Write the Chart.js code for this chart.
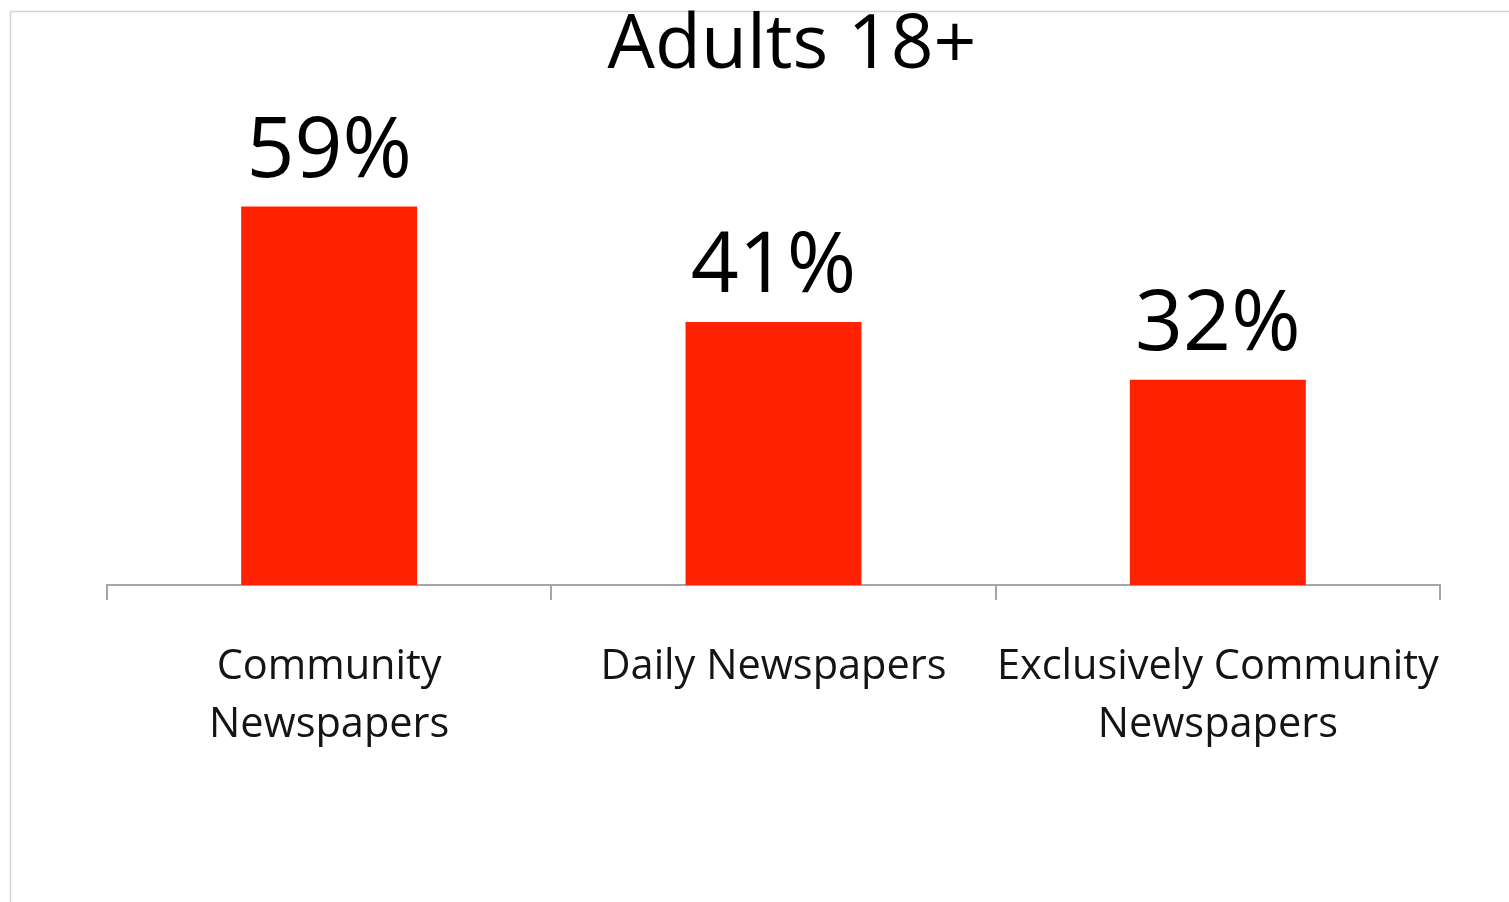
<!DOCTYPE html>
<html>
<head>
<meta charset="utf-8">
<script src="https://cdn.jsdelivr.net/npm/chart.js@4"></script>
<style>
  html, body { margin: 0; padding: 0; background: #ffffff; }
  #wrap { width: 1509px; height: 902px; position: relative; }
</style>
</head>
<body>
<div id="wrap"><canvas id="chart" width="1509" height="902"></canvas></div>
<script>
const titleText = 'Adults 18+';
const categories = [['Community', 'Newspapers'], 'Daily Newspapers', ['Exclusively Community', 'Newspapers']];
const shares = [59, 41, 32];
const valueLabels = ['59%', '41%', '32%'];

const FONT = "'Open Sans', 'Noto Sans', sans-serif";

// light frame around the slide area
const framePlugin = {
  id: 'frame',
  beforeDraw(chart) {
    const ctx = chart.ctx;
    ctx.save();
    ctx.fillStyle = '#ffffff';
    ctx.fillRect(0, 0, chart.width, chart.height);
    ctx.strokeStyle = '#d4d4d4';
    ctx.lineWidth = 1.5;
    ctx.beginPath();
    ctx.moveTo(10.5, chart.height);
    ctx.lineTo(10.5, 11.5);
    ctx.lineTo(chart.width, 11.5);
    ctx.stroke();
    ctx.restore();
  }
};

// title and value labels above each bar
const textPlugin = {
  id: 'texts',
  afterDatasetsDraw(chart) {
    const ctx = chart.ctx;
    ctx.save();
    ctx.fillStyle = '#000000';
    ctx.textAlign = 'center';
    ctx.textBaseline = 'alphabetic';
    ctx.font = '400 75px ' + FONT;
    ctx.fillText(titleText, 792, 68);
    ctx.font = '400 84px ' + FONT;
    const meta = chart.getDatasetMeta(0);
    meta.data.forEach((bar, i) => {
      ctx.fillText(valueLabels[i], bar.x, bar.y - 30);
    });
    ctx.restore();
  }
};

new Chart(document.getElementById('chart'), {
  type: 'bar',
  data: {
    labels: categories,
    datasets: [{
      data: shares,
      backgroundColor: '#ff2200',
      borderWidth: 0,
      categoryPercentage: 1,
      barPercentage: 0.396
    }]
  },
  options: {
    responsive: false,
    animation: false,
    devicePixelRatio: 1,
    layout: { padding: { left: 107, right: 69, top: 136, bottom: 0 } },
    plugins: {
      legend: { display: false },
      title: { display: false },
      tooltip: { enabled: false }
    },
    scales: {
      x: {
        afterFit(scale) { scale.height = 317; },
        border: { display: true, color: '#a6a6a6', width: 2 },
        grid: {
          display: true,
          offset: true,
          drawOnChartArea: false,
          drawTicks: true,
          tickLength: 15,
          color: '#a6a6a6',
          lineWidth: 2
        },
        ticks: {
          color: '#141414',
          padding: 38,
          maxRotation: 0,
          autoSkip: false,
          font: { family: FONT, size: 41.5, lineHeight: 1.4 }
        }
      },
      y: {
        display: false,
        min: 0,
        max: 70
      }
    }
  },
  plugins: [framePlugin, textPlugin]
});
</script>
</body>
</html>
